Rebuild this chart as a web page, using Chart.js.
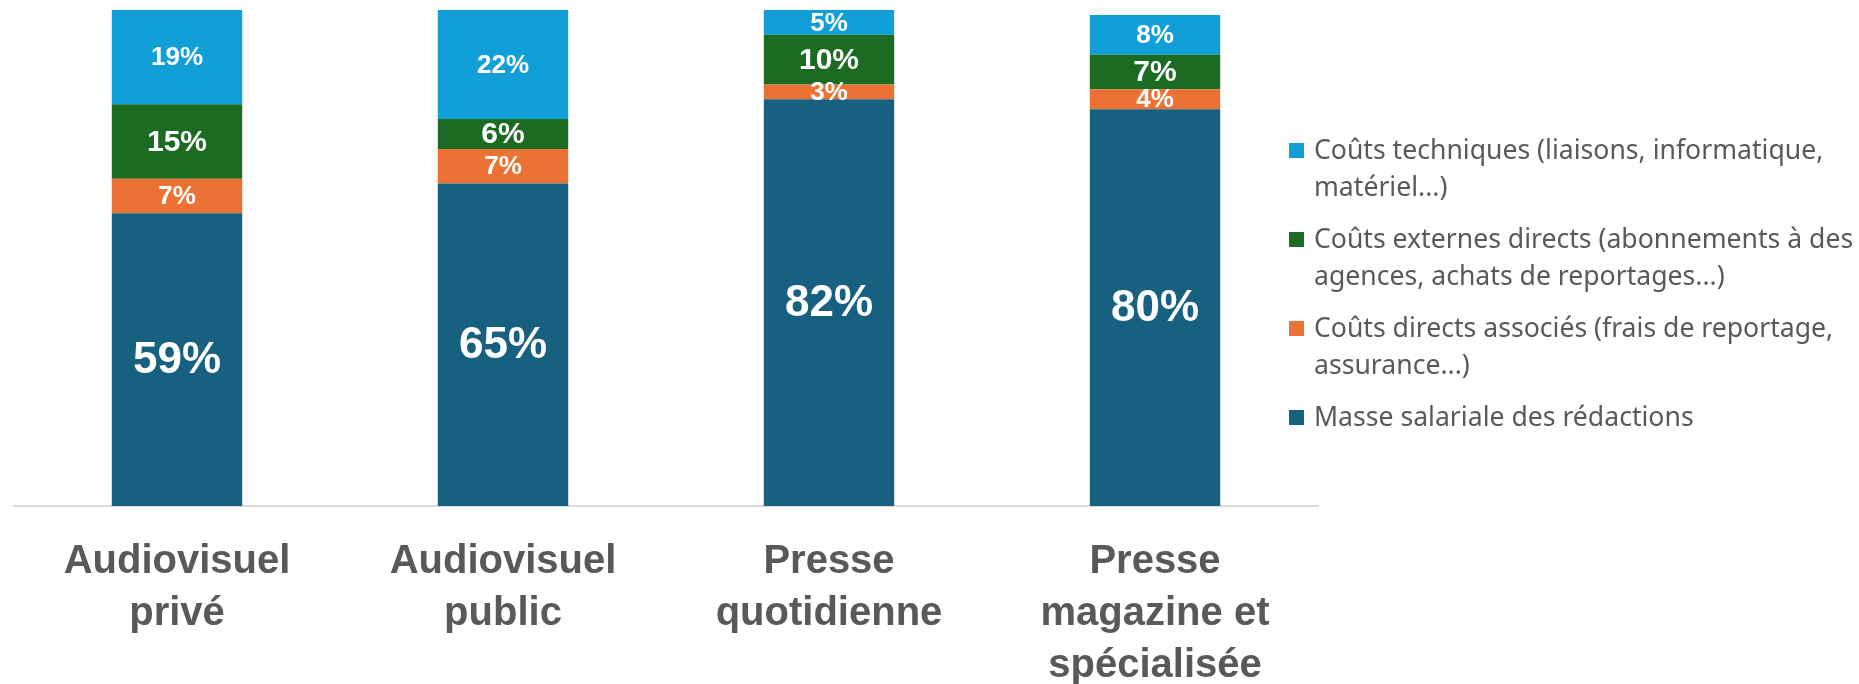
<!DOCTYPE html>
<html lang="fr">
<head>
<meta charset="utf-8">
<title>Répartition des coûts des rédactions</title>
<script src="https://cdn.jsdelivr.net/npm/chart.js@4.4.1/dist/chart.umd.min.js"></script>
<style>
  html, body { margin: 0; padding: 0; background: #ffffff; overflow: hidden; }
  #wrap { position: absolute; left: 0; top: 0; width: 1330px; height: 684px; }
  #legend {
    position: absolute; left: 1289px; top: 131px;
    font-family: "Noto Sans", sans-serif; font-size: 26.6px; line-height: 37px;
    color: #595959; margin: 0; padding: 0; list-style: none;
  }
  #legend li { display: flex; align-items: flex-start; margin: 0 0 15px 0; white-space: pre; }
  #legend .box { width: 15px; height: 15px; margin: 12px 10px 0 0; flex: none; }
</style>
</head>
<body>
<div id="wrap"><canvas id="chart"></canvas></div>
<ul id="legend"></ul>
<script>
// Media categories (x axis)
const categories = [
  ['Audiovisuel', 'privé'],
  ['Audiovisuel', 'public'],
  ['Presse', 'quotidienne'],
  ['Presse', 'magazine et', 'spécialisée']
];

// Cost shares per category, in %
const salaries   = [59, 65, 82, 80];
const associated = [7, 7, 3, 4];
const external   = [15, 6, 10, 7];
const technical  = [19, 22, 5, 8];

// Series names (line breaks used in the legend)
const seriesNames = [
  'Masse salariale des rédactions',
  'Coûts directs associés (frais de reportage,\nassurance...)',
  'Coûts externes directs (abonnements à des\nagences, achats de reportages...)',
  'Coûts techniques (liaisons, informatique,\nmatériel...)'
];

const colors = ['#17607f', '#eb7234', '#1b6b23', '#129fd8'];
const labelSizes = [44, 26, 30, 26];

// Writes each segment's value in the middle of its bar piece
const segmentLabels = {
  id: 'segmentLabels',
  afterDatasetsDraw(chart) {
    const ctx = chart.ctx;
    ctx.save();
    ctx.fillStyle = '#ffffff';
    ctx.textAlign = 'center';
    ctx.textBaseline = 'middle';
    chart.data.datasets.forEach((ds, di) => {
      const meta = chart.getDatasetMeta(di);
      ctx.font = 'bold ' + labelSizes[di] + 'px "Liberation Sans", Arial, sans-serif';
      meta.data.forEach((bar, i) => {
        const v = ds.data[i];
        const y = (bar.y + bar.base) / 2 + 1;
        ctx.fillText(v + '%', bar.x, y);
      });
    });
    ctx.restore();
  }
};

const values = [salaries, associated, external, technical];

const chart = new Chart(document.getElementById('chart'), {
  type: 'bar',
  data: {
    labels: categories,
    datasets: values.map((d, i) => ({
      label: seriesNames[i],
      data: d,
      backgroundColor: colors[i],
      borderWidth: 0,
      barPercentage: 0.4,
      categoryPercentage: 1.0
    }))
  },
  options: {
    responsive: true,
    maintainAspectRatio: false,
    animation: false,
    events: [],
    layout: { padding: { left: 14, right: 12, top: 10, bottom: 0 } },
    plugins: {
      legend: { display: false },
      tooltip: { enabled: false }
    },
    scales: {
      x: {
        stacked: true,
        grid: { display: false, drawTicks: false },
        border: { display: true, color: '#d9d9d9', width: 2 },
        ticks: {
          padding: 30,
          color: '#595959',
          maxRotation: 0,
          autoSkip: false,
          font: { family: '"Liberation Sans", Arial, sans-serif', size: 40, weight: 'bold', lineHeight: 1.3 }
        },
        afterFit(scale) { scale.height = 178; }
      },
      y: {
        stacked: true,
        display: false,
        min: 0,
        max: 100
      }
    }
  },
  plugins: [segmentLabels]
});

// Legend listed top to bottom in reverse stacking order
const legend = document.getElementById('legend');
chart.data.datasets.slice().reverse().forEach(ds => {
  const li = document.createElement('li');
  const box = document.createElement('span');
  box.className = 'box';
  box.style.background = ds.backgroundColor;
  const txt = document.createElement('span');
  txt.textContent = ds.label;
  li.appendChild(box);
  li.appendChild(txt);
  legend.appendChild(li);
});
</script>
</body>
</html>
